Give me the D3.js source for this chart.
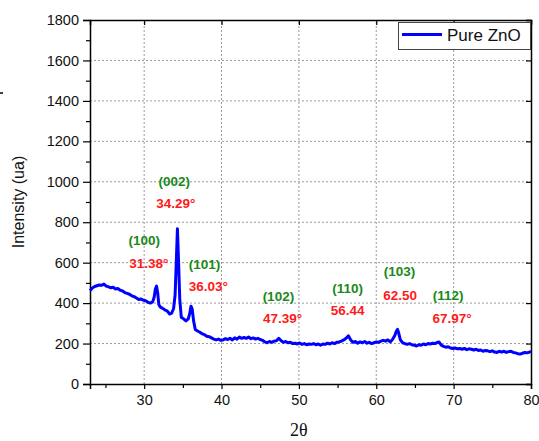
<!DOCTYPE html>
<html lang="en">
<head>
<meta charset="UTF-8">
<title>Pure ZnO XRD</title>
<script src="https://cdn.jsdelivr.net/npm/d3@7"></script>
<style>
  body { margin: 0; background: #fff; }
  svg text { font-family: "Liberation Sans", Arial, sans-serif; }
</style>
</head>
<body>
<svg id="chart" width="539" height="441"></svg>
<script>
// 2theta (deg) and intensity (ua)
const twoTheta = [
  23.0,23.3,23.6,23.9,24.2,24.5,24.8,25.1,25.4,25.7,26.0,26.3,26.6,26.9,27.2,27.5,27.8,28.1,28.4,28.7,
  29.0,29.3,29.6,29.9,30.2,30.5,30.8,31.1,31.3,31.45,31.6,31.75,31.9,32.1,32.4,32.7,33.0,33.3,33.55,33.8,
  34.0,34.15,34.3,34.45,34.6,34.8,35.1,35.4,35.7,35.9,36.05,36.2,36.4,36.6,36.9,37.2,37.5,37.8,38.1,38.4,
  38.7,39.0,39.3,39.6,39.9,40.2,40.5,40.8,41.1,41.4,41.7,42.0,42.3,42.6,42.9,43.2,43.5,43.8,44.1,44.4,
  44.7,45.0,45.3,45.6,45.9,46.2,46.5,46.8,47.1,47.4,47.7,48.0,48.3,48.6,48.9,49.2,49.5,49.8,50.1,50.4,
  50.7,51.0,51.3,51.6,51.9,52.2,52.5,52.8,53.1,53.4,53.7,54.0,54.3,54.6,54.9,55.2,55.5,55.8,56.1,56.4,
  56.7,57.0,57.3,57.6,57.9,58.2,58.5,58.8,59.1,59.4,59.7,60.0,60.3,60.6,60.9,61.2,61.5,61.8,62.1,62.4,
  62.6,62.75,62.9,63.1,63.4,63.7,64.0,64.3,64.6,64.9,65.2,65.5,65.8,66.1,66.4,66.7,67.0,67.3,67.6,67.9,
  68.1,68.4,68.7,69.0,69.3,69.6,69.9,70.2,70.5,70.8,71.1,71.4,71.7,72.0,72.3,72.6,72.9,73.2,73.5,73.8,
  74.1,74.4,74.7,75.0,75.3,75.6,75.9,76.2,76.5,76.8,77.1,77.4,77.7,78.0,78.3,78.6,78.9,79.2,79.5,79.8,
  80.0
];
const intensity = [
  462,475,482,486,490,488,494,484,480,476,478,470,472,464,460,452,448,444,436,432,
  425,418,420,414,412,404,400,406,430,470,484,450,392,380,374,366,360,346,350,372,
  440,600,768,600,420,330,322,312,322,350,385,372,310,270,262,256,248,244,236,234,
  228,222,218,222,216,218,224,220,226,218,228,222,232,226,230,226,232,224,228,222,
  226,220,216,208,204,210,206,212,214,226,214,206,210,204,206,200,202,198,203,196,
  200,194,198,196,200,194,198,192,198,196,202,198,204,200,206,208,212,218,226,238,
  218,206,210,202,208,204,210,202,206,200,204,208,206,212,216,212,218,208,220,240,
  262,270,252,220,204,200,196,200,194,192,188,194,192,198,194,200,198,202,200,206,
  208,192,186,182,184,178,176,178,174,176,172,176,170,174,172,168,172,166,168,162,
  166,164,160,164,158,156,162,158,162,156,160,162,156,154,150,148,152,156,154,158,
  160
];

const xTicks = [30, 40, 50, 60, 70, 80];
const yTicks = [0, 200, 400, 600, 800, 1000, 1200, 1400, 1600, 1800];

// peak annotations: plane, angle label, label positions in data units
const planes = ["(002)", "(100)", "(101)", "(102)", "(110)", "(103)", "(112)"];
const planeAt = [[33.9, 1000], [30.0, 712], [37.8, 593], [47.35, 435], [56.3, 470], [63.0, 554], [69.3, 440]];
const angles = ["34.29°", "31.38°", "36.03°", "47.39°", "56.44", "62.50", "67.97°"];
const angleAt = [[34.1, 895], [30.6, 598], [38.3, 480], [47.9, 326], [56.3, 361], [63.1, 440], [69.8, 326]];

const svg = d3.select("#chart");
const m = {left: 90, right: 8, top: 20, bottom: 57};
const W = 539, H = 441;

const x = d3.scaleLinear().domain([23, 80]).range([m.left, W - m.right]);
const y = d3.scaleLinear().domain([0, 1800]).range([H - m.bottom, m.top]);

// grid
const grid = svg.append("g").attr("stroke", "#9a9a9a").attr("stroke-dasharray", "2,2").attr("stroke-width", 1);
xTicks.filter(t => t < 80).forEach(t => {
  grid.append("line").attr("x1", x(t)).attr("x2", x(t)).attr("y1", y(0)).attr("y2", y(1800));
});
yTicks.filter(t => t > 0 && t < 1800).forEach(t => {
  grid.append("line").attr("x1", x(23)).attr("x2", x(80)).attr("y1", y(t)).attr("y2", y(t));
});

// axes
const xMinor = d3.range(25, 80, 5).filter(v => v % 10 !== 0);
const yMinor = d3.range(100, 1800, 200);

svg.append("g").attr("transform", `translate(0,${y(0)})`)
  .call(d3.axisBottom(x).tickValues(xTicks).tickFormat(d3.format("d")).tickSize(5).tickPadding(6));
svg.append("g").attr("transform", `translate(0,${y(0)})`)
  .call(d3.axisBottom(x).tickValues(xMinor).tickFormat("").tickSize(4))
  .select(".domain").remove();

svg.append("g").attr("transform", `translate(${x(23)},0)`)
  .call(d3.axisLeft(y).tickValues(yTicks).tickFormat(d3.format("d")).tickSize(7).tickPadding(4));
svg.append("g").attr("transform", `translate(${x(23)},0)`)
  .call(d3.axisLeft(y).tickValues(yMinor).tickFormat("").tickSize(4))
  .select(".domain").remove();

svg.append("g").attr("transform", `translate(0,${y(1800)})`)
  .call(d3.axisBottom(x).tickValues(xTicks).tickFormat("").tickSize(5));
svg.append("g").attr("transform", `translate(${x(80)},0)`)
  .call(d3.axisLeft(y).tickValues(yTicks).tickFormat("").tickSize(5));

svg.selectAll(".domain").attr("stroke", "#000").attr("stroke-width", 1.5);
svg.selectAll(".tick line").attr("stroke", "#000").attr("stroke-width", 1.2);
svg.selectAll(".tick text").attr("font-size", 14.5).attr("fill", "#111")
  .attr("font-family", "'Liberation Sans', Arial, sans-serif");

// curve
svg.append("path")
  .datum(twoTheta.map((t, i) => [t, intensity[i]]))
  .attr("fill", "none")
  .attr("stroke", "#0000ff")
  .attr("stroke-width", 3)
  .attr("stroke-linejoin", "round")
  .attr("d", d3.line().x(d => x(d[0])).y(d => y(d[1])));

// annotations
planes.forEach((p, i) => {
  svg.append("text").attr("x", x(planeAt[i][0])).attr("y", y(planeAt[i][1]))
    .attr("text-anchor", "middle").attr("dominant-baseline", "central")
    .attr("font-size", 13.5).attr("font-weight", "bold").attr("fill", "#1a8a1a").text(p);
  svg.append("text").attr("x", x(angleAt[i][0])).attr("y", y(angleAt[i][1]))
    .attr("text-anchor", "middle").attr("dominant-baseline", "central")
    .attr("font-size", 13.5).attr("font-weight", "bold").attr("fill", "#ff1a1a").text(angles[i]);
});

// legend
const lg = svg.append("g");
lg.append("rect").attr("x", 398.5).attr("y", 22.5).attr("width", 132).attr("height", 27)
  .attr("fill", "#fff").attr("stroke", "#444").attr("stroke-width", 1);
lg.append("line").attr("x1", 402).attr("x2", 442).attr("y1", 34.5).attr("y2", 34.5)
  .attr("stroke", "#0000ff").attr("stroke-width", 3);
lg.append("text").attr("x", 447).attr("y", 35).attr("dominant-baseline", "central")
  .attr("font-size", 17).attr("fill", "#111").text("Pure ZnO");

// axis titles
svg.append("text").attr("transform", `translate(24,${(y(0) + y(1800)) / 2}) rotate(-90)`)
  .attr("text-anchor", "middle").attr("font-size", 16).attr("fill", "#111").text("Intensity (ua)");
svg.append("text").attr("x", x(50)).attr("y", 436).attr("text-anchor", "middle")
  .attr("font-size", 18).attr("fill", "#111")
  .style("font-family", "'Liberation Serif', 'Times New Roman', serif").text("2θ");

// stray mark at the left edge
svg.append("line").attr("x1", 0).attr("x2", 3).attr("y1", 93).attr("y2", 93)
  .attr("stroke", "#000").attr("stroke-width", 1.5);
</script>
</body>
</html>
